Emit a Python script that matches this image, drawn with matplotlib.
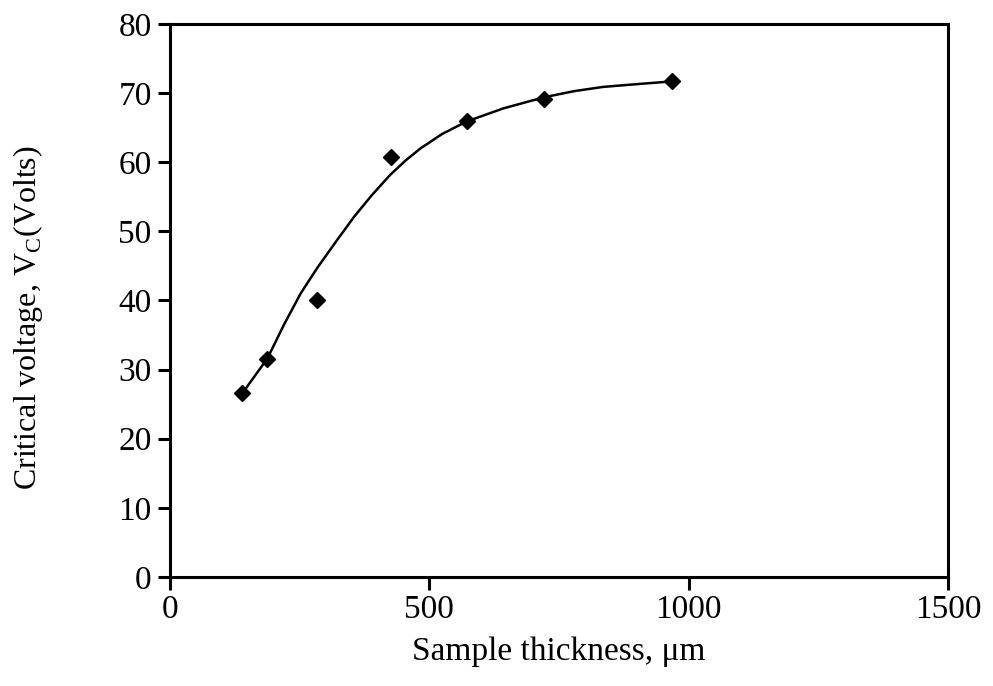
import matplotlib
matplotlib.use('Agg')
from matplotlib import pyplot as plt

plt.rcParams['font.family'] = ['Liberation Serif', 'DejaVu Serif']
plt.rcParams['mathtext.fontset'] = 'custom'
plt.rcParams['mathtext.rm'] = 'Liberation Serif'

# measured points: sample thickness (um) and critical voltage (V)
thickness = [140, 188, 284, 426, 572, 721, 968]
voltage = [26.6, 31.5, 40.0, 60.7, 65.9, 69.2, 71.7]

# smooth trend line
curve_x = [140, 188, 220, 252, 284, 320, 355, 390, 425, 455, 483, 525, 572, 643, 721, 780, 835, 900, 968]
curve_y = [26.6, 31.6, 36.5, 41.0, 44.7, 48.5, 52.1, 55.3, 58.2, 60.3, 62.0, 64.1, 65.9, 67.8, 69.4, 70.3, 70.9, 71.3, 71.7]

fig = plt.figure(figsize=(9.93, 6.86), dpi=100)
ax = fig.add_axes([0.171, 0.159, 0.784, 0.806])

ax.plot(curve_x, curve_y, color='black', lw=1.8, solid_joinstyle='round')
ax.plot(thickness, voltage, 'D', color='black', markersize=8)

ax.set_xlim(0, 1500)
ax.set_ylim(0, 80)
ax.set_xticks([0, 500, 1000, 1500])
ax.set_yticks(range(0, 81, 10))
for s in ax.spines.values():
    s.set_linewidth(2.2)
ax.tick_params(direction='out', length=9, width=2.2, labelsize=24, pad=4)
ax.set_xlabel('Sample thickness, \u03bcm', fontsize=24, labelpad=8)
fig.text(28 / 993, 1 - 318 / 686, 'Critical voltage, V$_\\mathrm{C}$(Volts)',
         fontsize=23, rotation=90, ha='center', va='center')

plt.savefig('out.png', dpi=100)
